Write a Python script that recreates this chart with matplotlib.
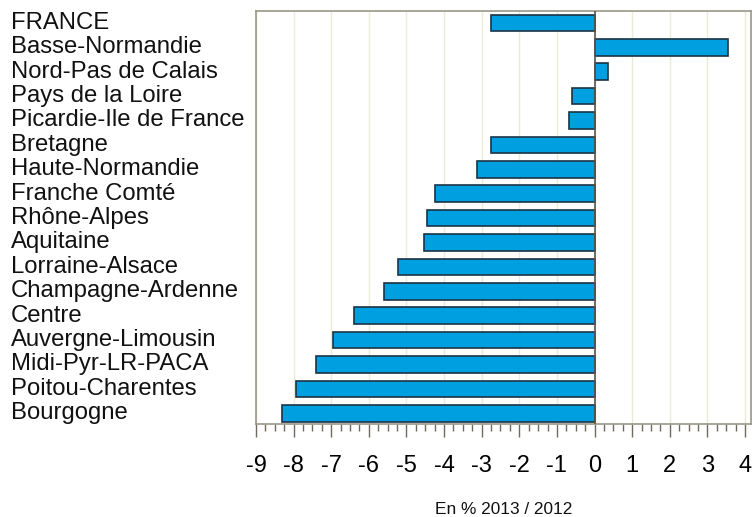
import matplotlib
matplotlib.use('Agg')
import matplotlib.pyplot as plt
import matplotlib.transforms as mtransforms
from matplotlib.ticker import MultipleLocator

plt.rcParams['font.family'] = ['Liberation Sans', 'DejaVu Sans']

# regions, top to bottom
regions = ["FRANCE", "Basse-Normandie", "Nord-Pas de Calais", "Pays de la Loire",
           "Picardie-Ile de France", "Bretagne", "Haute-Normandie", "Franche Comté",
           "Rhône-Alpes", "Aquitaine", "Lorraine-Alsace", "Champagne-Ardenne",
           "Centre", "Auvergne-Limousin", "Midi-Pyr-LR-PACA", "Poitou-Charentes",
           "Bourgogne"]
# variation in % 2013 / 2012
values = [-2.76, 3.54, 0.35, -0.61, -0.69, -2.74, -3.13, -4.23, -4.46, -4.53,
          -5.22, -5.60, -6.40, -6.94, -7.40, -7.93, -8.32]
xticks = list(range(-9, 5))

fig = plt.figure(figsize=(7.52, 5.17), dpi=100)
ax = fig.add_axes([256 / 752, 1 - 424 / 517, (751 - 256) / 752, (424 - 10.7) / 517])

n = len(regions)
ypos = [n - 1 - i for i in range(n)]

# light vertical grid
for t in xticks:
    ax.axvline(t, color='#ecebd6', lw=1, zorder=0)

ax.barh(ypos, values, height=0.68, color='#009fe0', edgecolor='#1b3446',
        linewidth=1.2, zorder=2)
ax.axvline(0, color='#5a5650', lw=1.2, zorder=3)

ax.set_xlim(-9, 4.16)
ax.set_ylim(-0.44, n - 0.5)
ax.set_yticks([])
ax.set_xticks(xticks)
ax.set_xticklabels([str(t) for t in xticks], fontsize=17)
ax.xaxis.set_minor_locator(MultipleLocator(0.25))
ax.tick_params(axis='x', which='major', length=9, width=1, color='#6e6a60', pad=13)
ax.tick_params(axis='x', which='minor', length=4.8, width=1, color='#6e6a60')

for s in ax.spines.values():
    s.set_color('#9a968a')
    s.set_linewidth(1.2)

# region labels on the left
trans = mtransforms.blended_transform_factory(fig.transFigure, ax.transData)
for y, name in zip(ypos, regions):
    ax.text(11 / 752, y, name, transform=trans, ha='left', va='center',
            fontsize=17.2, color='#111111')

fig.text(503.5 / 752, 1 - 509 / 517, "En % 2013 / 2012", ha='center', va='center',
         fontsize=12.4, color='#111111')

plt.savefig('out.png', dpi=100)
